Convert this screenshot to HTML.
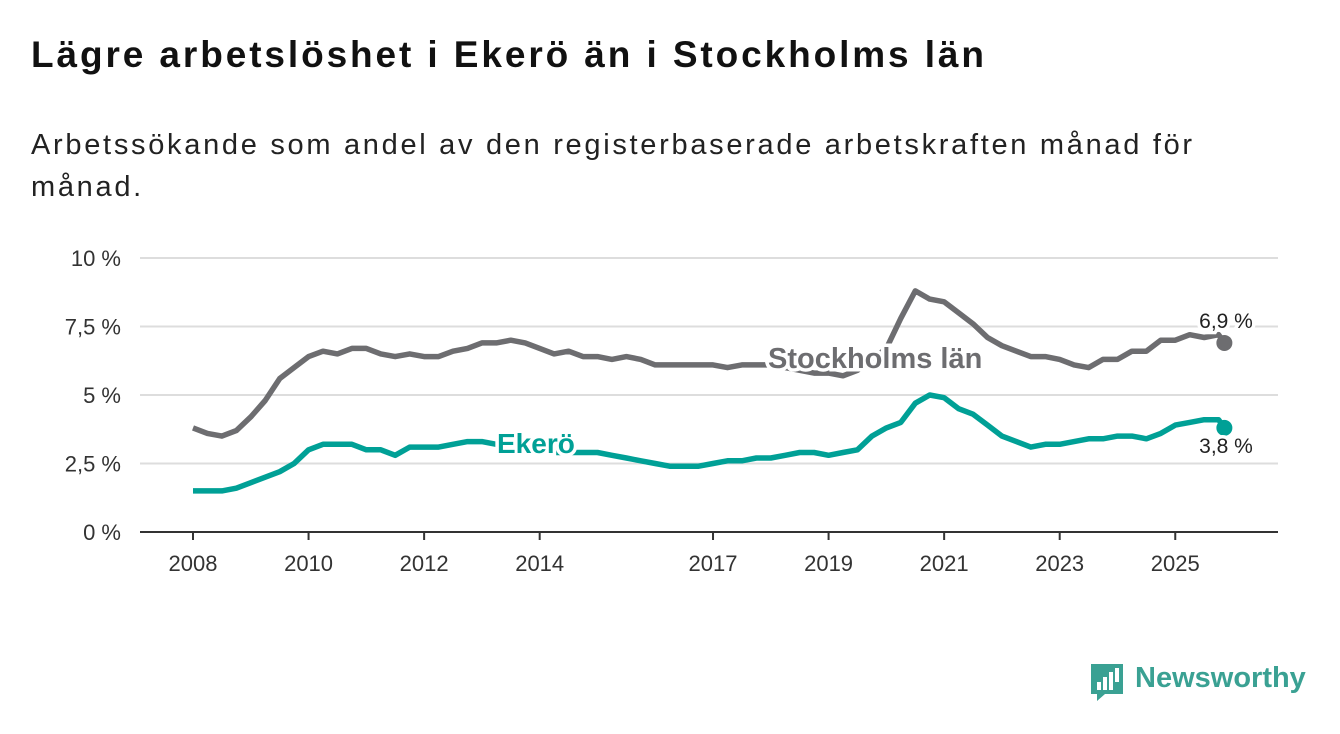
<!DOCTYPE html>
<html><head><meta charset="utf-8"><style>
body{margin:0;background:#fff;width:1340px;height:734px;overflow:hidden;font-family:"Liberation Sans",sans-serif;}
#title{position:absolute;left:31px;top:34px;font-size:37px;font-weight:bold;color:#111;margin:0;letter-spacing:2.9px;white-space:nowrap}
#sub{position:absolute;left:31px;top:124px;font-size:29px;color:#222;line-height:42px;width:1250px;margin:0;letter-spacing:2.7px}
svg{position:absolute;left:0;top:0}
</style></head><body>
<h1 id="title">Lägre arbetslöshet i Ekerö än i Stockholms län</h1>
<p id="sub">Arbetssökande som andel av den registerbaserade arbetskraften månad för<br>månad.</p>
<svg id="chart" width="1340" height="734"></svg>
<script>
const yTicks=[0,2.5,5,7.5,10];
const yTickLabels=["0 %","2,5 %","5 %","7,5 %","10 %"];
const xTicks=[2008,2010,2012,2014,2017,2019,2021,2023,2025];
const sthlm=[3.8,3.6,3.5,3.7,4.2,4.8,5.6,6.0,6.4,6.6,6.5,6.7,6.7,6.5,6.4,6.5,6.4,6.4,6.6,6.7,6.9,6.9,7.0,6.9,6.7,6.5,6.6,6.4,6.4,6.3,6.4,6.3,6.1,6.1,6.1,6.1,6.1,6.0,6.1,6.1,6.1,6.0,5.9,5.8,5.8,5.7,5.9,6.3,6.7,7.8,8.8,8.5,8.4,8.0,7.6,7.1,6.8,6.6,6.4,6.4,6.3,6.1,6.0,6.3,6.3,6.6,6.6,7.0,7.0,7.2,7.1,7.2,6.9];
const ekero=[1.5,1.5,1.5,1.6,1.8,2.0,2.2,2.5,3.0,3.2,3.2,3.2,3.0,3.0,2.8,3.1,3.1,3.1,3.2,3.3,3.3,3.2,3.1,3.0,3.0,2.9,2.9,2.9,2.9,2.8,2.7,2.6,2.5,2.4,2.4,2.4,2.5,2.6,2.6,2.7,2.7,2.8,2.9,2.9,2.8,2.9,3.0,3.5,3.8,4.0,4.7,5.0,4.9,4.5,4.3,3.9,3.5,3.3,3.1,3.2,3.2,3.3,3.4,3.4,3.5,3.5,3.4,3.6,3.9,4.0,4.1,4.1,3.8];
const dates=sthlm.map((_,i)=>i<72?2008+i*0.25:2025.85);
const svg=document.getElementById('chart');const NS='http://www.w3.org/2000/svg';
const X=t=>193+57.78*(t-2008);const Y=v=>532-27.4*v;
function mk(tag,at,txt){const e=document.createElementNS(NS,tag);for(const k in at)e.setAttribute(k,at[k]);if(txt!==undefined)e.textContent=txt;svg.appendChild(e);return e;}
yTicks.forEach((v,i)=>{
 const g=mk('line',{x1:140,x2:1278,y1:Y(v),y2:Y(v),stroke:v===0?'#333':'#ddd','stroke-width':2});
 
 const t=mk('text',{x:121,y:Y(v)+8,'text-anchor':'end','font-size':22,fill:'#333'},yTickLabels[i]);
 
});
xTicks.forEach(yr=>{
 const l=mk('line',{x1:X(yr),x2:X(yr),y1:532,y2:540,stroke:'#333','stroke-width':2});
 
 const t=mk('text',{x:X(yr),y:571,'text-anchor':'middle','font-size':22,fill:'#333'},String(yr));
 
});
function line(vals,col,name){
 const d=vals.map((v,i)=>(i?'L':'M')+X(dates[i]).toFixed(1)+','+Y(v).toFixed(1)).join('');
 const p=mk('path',{d:d,fill:'none',stroke:col,'stroke-width':5.5,'stroke-linejoin':'round'});
 
 const n=vals.length-1;
 const c=mk('circle',{cx:X(dates[n]),cy:Y(vals[n]),r:8,fill:col});
 
}
line(sthlm,'#6d6d70','stockholm-line');
line(ekero,'#00a096','ekero-line');
function lab(x,y,txt,col,size,bold,name,anchor){
 const t=mk('text',{x:x,y:y,'font-size':size,'font-weight':bold?'bold':'normal',fill:col,stroke:'#fff','stroke-width':7,'paint-order':'stroke','text-anchor':anchor||'start'},txt);
 
}
lab(768,368,'Stockholms län','#6d6d70',29,true,'stockholm-label');
lab(497,453,'Ekerö','#00a096',28,true,'ekero-label');
lab(1226,328,'6,9 %','#222',21,false,'stockholm-end-value','middle');
lab(1226,453,'3,8 %','#222',21,false,'ekero-end-value','middle');
</script>
<div style="position:absolute;left:1089px;top:662px;width:220px;height:40px;">
<svg width="36" height="40" style="position:absolute;left:0;top:0"><path d="M2 2h32v30h-18l-8 7v-7h-6z" fill="#3aa193"/><rect x="8" y="20" width="4" height="8" fill="#fff"/><rect x="14" y="15" width="4" height="13" fill="#fff"/><rect x="20" y="10" width="4" height="18" fill="#fff"/><rect x="26" y="6" width="4" height="14" fill="#fff"/></svg>
<span style="position:absolute;left:46px;top:0;font-size:29px;color:#3aa193;font-weight:bold;">Newsworthy</span>
</div>
</body></html>
